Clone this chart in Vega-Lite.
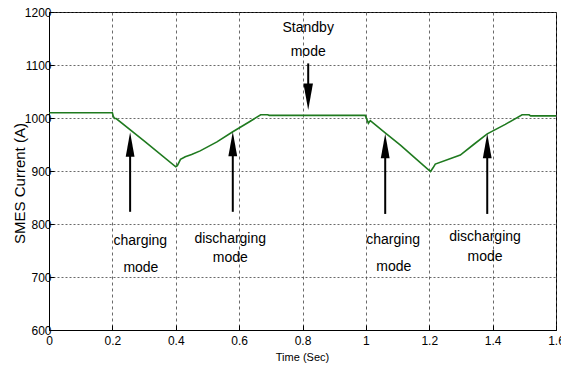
{
  "$schema": "https://vega.github.io/schema/vega-lite/v6.json",
  "width": 507,
  "height": 318,
  "autosize": {"type": "none"},
  "padding": {"left": 49, "top": 12, "right": 5, "bottom": 39},
  "background": "white",
  "config": {
    "view": {"stroke": "black", "strokeWidth": 1},
    "font": "Liberation Sans, Arial, sans-serif",
    "axis": {
      "labelFont": "Liberation Sans, Arial, sans-serif",
      "titleFont": "Liberation Sans, Arial, sans-serif",
      "labelColor": "black",
      "titleColor": "black",
      "domainColor": "black",
      "tickColor": "black",
      "gridColor": "#444",
      "gridOpacity": 1,
      "gridWidth": 0.8,
      "labelFontSize": 12,
      "titleFontWeight": "normal"
    }
  },
  "datasets": {
    "series": [
      {"t": 0, "i": 1010}, {"t": 0.2, "i": 1010}, {"t": 0.203, "i": 1003}, {"t": 0.207, "i": 999}, {"t": 0.212, "i": 999},
      {"t": 0.3, "i": 957}, {"t": 0.4, "i": 908}, {"t": 0.405, "i": 910}, {"t": 0.415, "i": 922}, {"t": 0.43, "i": 927},
      {"t": 0.45, "i": 931}, {"t": 0.477, "i": 938}, {"t": 0.53, "i": 955}, {"t": 0.58, "i": 974}, {"t": 0.63, "i": 992},
      {"t": 0.668, "i": 1006}, {"t": 0.69, "i": 1006}, {"t": 0.695, "i": 1005}, {"t": 0.998, "i": 1005},
      {"t": 1.004, "i": 996}, {"t": 1.008, "i": 990}, {"t": 1.014, "i": 995}, {"t": 1.061, "i": 972},
      {"t": 1.109, "i": 949}, {"t": 1.16, "i": 922}, {"t": 1.204, "i": 899}, {"t": 1.212, "i": 906},
      {"t": 1.219, "i": 913}, {"t": 1.298, "i": 930}, {"t": 1.34, "i": 950}, {"t": 1.383, "i": 970},
      {"t": 1.44, "i": 988}, {"t": 1.493, "i": 1006}, {"t": 1.515, "i": 1006}, {"t": 1.52, "i": 1004}, {"t": 1.6, "i": 1004}
    ],
    "arrows": [
      {"t": 0.256, "lo": 823, "hi": 940, "head": 950, "dir": "up"},
      {"t": 0.58, "lo": 823, "hi": 940, "head": 951, "dir": "up"},
      {"t": 1.061, "lo": 819, "hi": 935, "head": 947, "dir": "up"},
      {"t": 1.383, "lo": 819, "hi": 935, "head": 947, "dir": "up"},
      {"t": 0.818, "lo": 1050, "hi": 1103, "head": 1040, "dir": "down"}
    ],
    "labels": [
      {"t": 0.288, "v": 768, "txt": "charging"},
      {"t": 0.29, "v": 717, "txt": "mode"},
      {"t": 0.572, "v": 772, "txt": "discharging"},
      {"t": 0.572, "v": 736, "txt": "mode"},
      {"t": 0.818, "v": 1170, "txt": "Standby"},
      {"t": 0.818, "v": 1125, "txt": "mode"},
      {"t": 1.086, "v": 770, "txt": "charging"},
      {"t": 1.088, "v": 719, "txt": "mode"},
      {"t": 1.376, "v": 775, "txt": "discharging"},
      {"t": 1.376, "v": 738, "txt": "mode"}
    ]
  },
  "layer": [
    {
      "data": {"name": "series"},
      "mark": {"type": "line", "color": "#1f7a1f", "strokeWidth": 1.6, "clip": true},
      "encoding": {
        "x": {
          "field": "t", "type": "quantitative",
          "scale": {"domain": [0, 1.6], "nice": false, "zero": false},
          "axis": {
            "values": [0, 0.2, 0.4, 0.6, 0.8, 1, 1.2, 1.4, 1.6],
            "format": ".1~f",
            "title": "Time (Sec)",
            "titleFontSize": 11,
            "titleX": 253,
            "titleY": 27,
            "titleBaseline": "middle",
            "titleAlign": "center",
            "labelPadding": 10,
            "tickSize": -5,
            "gridDash": [3, 3],
            "labelFlush": false
          }
        },
        "y": {
          "field": "i", "type": "quantitative",
          "scale": {"domain": [600, 1200], "nice": false, "zero": false},
          "axis": {
            "values": [600, 700, 800, 900, 1000, 1100, 1200],
            "format": "d",
            "title": "SMES Current (A)",
            "titleFontSize": 15,
            "titleX": -30,
            "titleY": 171,
            "titleAngle": -90,
            "titleAlign": "center",
            "titleBaseline": "middle",
            "labelPadding": 3,
            "tickSize": -5,
            "gridDash": [2, 2]
          }
        }
      }
    },
    {
      "data": {"name": "arrows"},
      "mark": {"type": "rule", "color": "black", "strokeWidth": 2},
      "encoding": {
        "x": {"field": "t", "type": "quantitative"},
        "y": {"field": "lo", "type": "quantitative"},
        "y2": {"field": "hi"}
      }
    },
    {
      "data": {"name": "arrows"},
      "transform": [{"filter": "datum.dir === 'up'"}],
      "mark": {"type": "point", "filled": true, "color": "black", "opacity": 1, "shape": "M0,-1L0.36,1L-0.36,1Z", "size": 600},
      "encoding": {
        "x": {"field": "t", "type": "quantitative"},
        "y": {"field": "head", "type": "quantitative"}
      }
    },
    {
      "data": {"name": "arrows"},
      "transform": [{"filter": "datum.dir === 'down'"}],
      "mark": {"type": "point", "filled": true, "color": "black", "opacity": 1, "shape": "M0,1L0.36,-1L-0.36,-1Z", "size": 700},
      "encoding": {
        "x": {"field": "t", "type": "quantitative"},
        "y": {"field": "head", "type": "quantitative"}
      }
    },
    {
      "data": {"name": "labels"},
      "mark": {"type": "text", "fontSize": 14, "color": "black", "align": "center", "baseline": "middle", "font": "Liberation Sans, Arial, sans-serif"},
      "encoding": {
        "x": {"field": "t", "type": "quantitative"},
        "y": {"field": "v", "type": "quantitative"},
        "text": {"field": "txt"}
      }
    }
  ]
}
